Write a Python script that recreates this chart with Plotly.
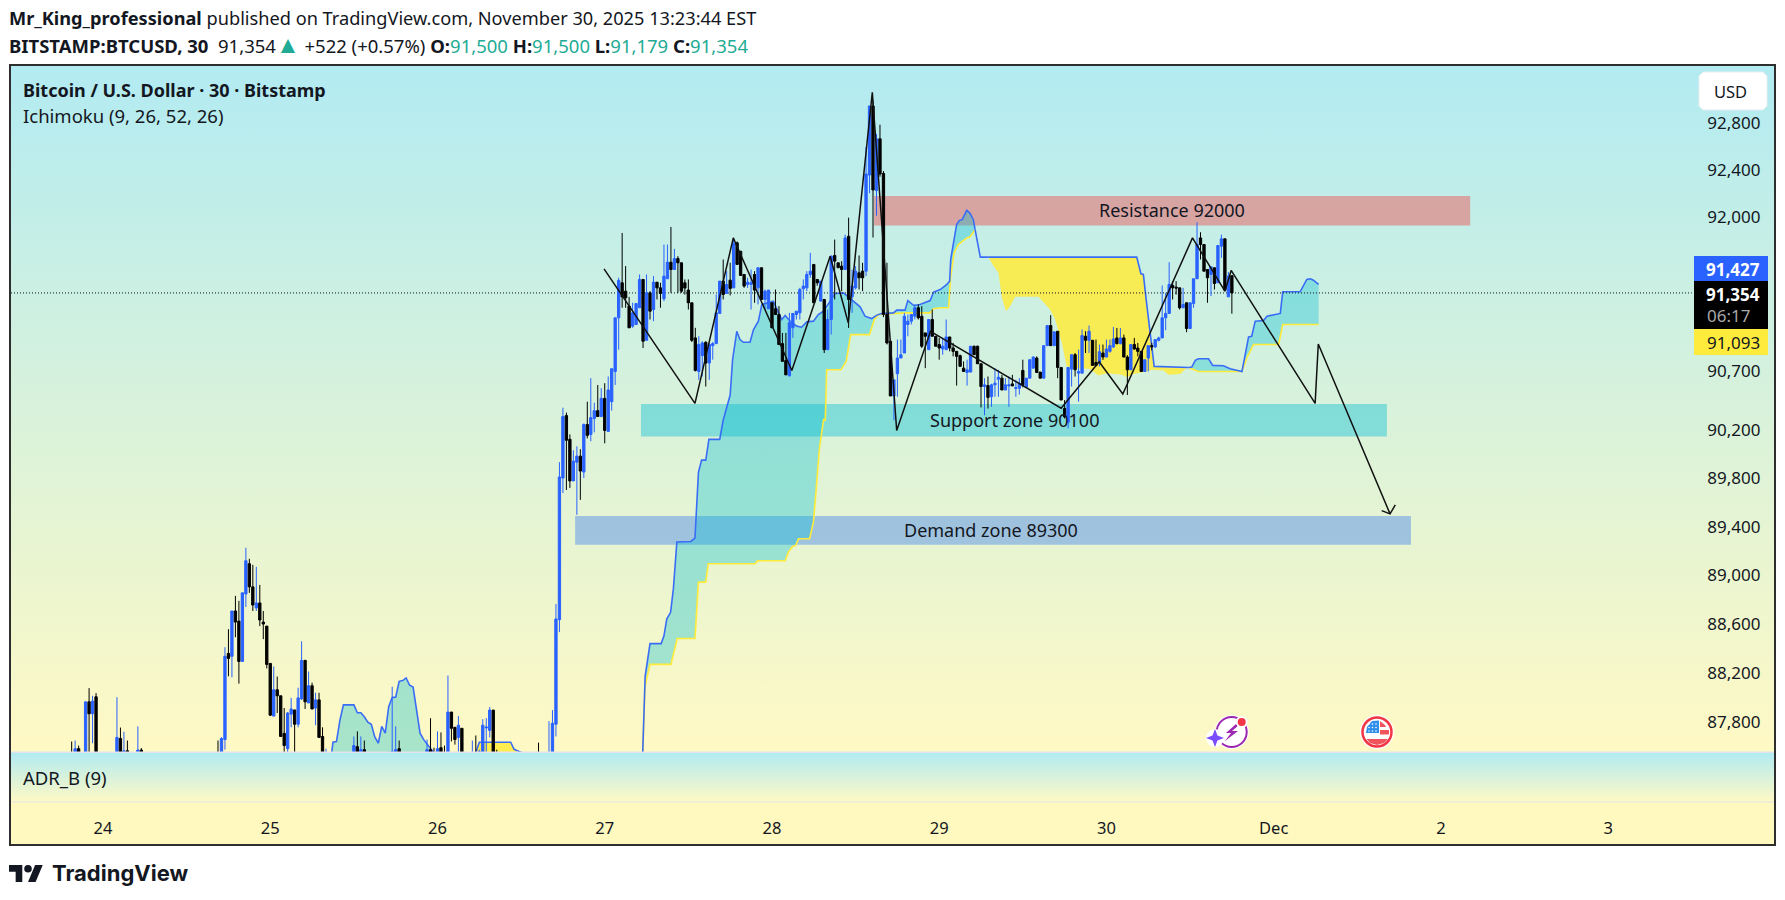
import numpy as np
import plotly.graph_objects as go

WIDTH = 1785
HEIGHT = 900
FONT = "Noto Sans"
INK = "#131722"
BLUE = "#2962FF"
YELLOW = "#FFEB3B"
TEAL_FILL = "rgba(0,188,212,0.34)"
YELLOW_FILL = "rgba(255,235,59,0.85)"
GRADIENT = [[0, "#FFF9C4"], [1, "#B2EBF2"]]

# 30 minute bars, bar 0 is Nov 24 00:00
bar_numbers = list(range(-9, 325))
opens = [
    87500,87500,87585,87500,87480,87965,87868,88006,87500,87440,
    87460,87420,87440,87480,87668,87500,87568,87500,87460,87490,
    87574,87500,87460,87400,87370,87390,87340,87360,87340,87300,
    87320,87350,87390,87360,87330,87370,87400,87420,87390,87430,
    87460,87480,87540,87500,87659,88360,88336,88707,88624,88294,
    88847,89095,88905,88732,88773,88616,88583,88278,87849,88063,
    88014,87709,87585,87865,87899,87783,87989,88303,87956,88096,
    87915,87981,87684,87480,87500,87470,87450,87430,87460,87440,
    87470,87500,87601,87500,87577,87500,87480,87450,87430,87460,
    87470,87480,87480,87480,87585,87480,87450,87420,87440,87460,
    87430,87450,87480,87577,87540,87480,87593,87530,87480,87882,
    87758,87676,87750,87500,87460,87480,87530,87480,87500,87753,
    87733,87898,87500,87470,87440,87410,87430,87400,87420,87450,
    87430,87410,87440,87460,87480,87460,87490,87480,87500,87783,
    88636,89804,90324,90126,89780,89936,89986,89854,90250,90167,
    90299,90365,90316,90468,90192,90440,90693,91144,91440,91369,
    91243,91074,91088,91229,91468,90955,91355,91214,91445,91397,
    91305,91474,91614,91552,91645,91609,91440,91378,91271,90975,
    90693,90826,90938,90764,90910,90927,91181,91454,91350,91462,
    91397,91778,91707,91510,91426,91426,91510,91397,91567,91299,
    91220,91271,91220,91172,90927,90786,90657,91060,91172,91186,
    91389,91397,91510,91595,91468,91285,91299,90876,91130,91671,
    91609,91581,91552,91834,91321,91397,91524,91538,91538,92355,
    92947,92223,92665,92369,91172,90947,90488,90674,90806,90848,
    91088,91116,91158,91229,91158,91017,90876,91130,90989,90919,
    90882,90876,90983,90890,90862,90826,90721,90685,90688,90905,
    90905,90758,90567,90575,90482,90581,90628,90637,90538,90572,
    90589,90550,90552,90702,90561,90637,90721,90806,90688,90637,
    90910,91079,90910,91031,90727,90383,90268,90713,90834,90679,
    90679,90989,90955,90955,90769,90764,90848,90814,90862,90899,
    90975,90927,90975,90814,90707,90919,90890,90862,90693,90806,
    90910,90899,90955,90975,91144,91181,91417,91403,91397,91229,
    91271,91054,91265,91474,91820,91764,91552,91510,91567,91440,
    91750,91812,91321,91500,
]
highs = [
    87643,87651,87610,87530,87965,88077,88014,88036,87520,87510,
    87500,87480,87500,88003,87756,87722,87651,87530,87520,87766,
    87590,87530,87500,87440,87420,87430,87400,87410,87380,87350,
    87380,87420,87440,87400,87390,87430,87460,87480,87450,87490,
    87510,87530,87651,87678,88410,88558,88707,88831,88790,88856,
    89227,89136,89086,89070,88921,88707,88583,88278,88253,88171,
    88014,87915,87882,87997,87899,88080,88459,88303,88212,88121,
    88039,88039,87758,87585,87530,87510,87490,87480,87500,87490,
    87530,87684,87725,87684,87651,87530,87520,87490,87480,87510,
    87530,87560,88088,87766,87651,87520,87490,87470,87490,87500,
    87480,87510,87659,87832,87593,87725,87717,87610,88179,87882,
    87758,87849,87750,87530,87510,87651,87692,87577,87824,87832,
    87923,87898,87577,87510,87490,87460,87480,87450,87470,87500,
    87480,87460,87490,87510,87634,87510,87530,87808,87898,88765,
    89936,90390,90349,90167,90035,90068,90044,90258,90440,90637,
    90431,90580,90553,90595,90651,90716,91144,91482,91862,91581,
    91321,91271,91265,91510,91468,91510,91369,91496,91445,91440,
    91764,91764,91913,91727,91665,91609,91468,91468,91271,91060,
    90989,90947,90947,90933,90941,91341,91454,91637,91538,91609,
    91820,91790,91707,91510,91482,91552,91538,91567,91567,91383,
    91378,91271,91383,91243,91017,91017,91186,91181,91200,91397,
    91468,91538,91693,91595,91468,91454,91299,91214,91671,91806,
    91609,91623,91848,91992,91552,91581,91671,91609,92595,92947,
    92989,92707,92786,92389,91609,90947,90623,90961,90961,91186,
    91172,91172,91257,91257,91243,91017,91130,91214,90989,90975,
    90975,91130,90983,90933,90862,90835,90778,90792,90905,90910,
    90910,90758,90637,90651,90590,90721,90707,90665,90637,90651,
    90665,90623,90637,90792,90637,90792,90820,90820,90688,90910,
    91079,91167,91026,91031,90727,90454,90727,90834,90848,90876,
    91045,91031,91079,90955,90961,90919,90919,90961,90961,91068,
    91059,91059,91003,90830,90919,90975,90933,90862,90792,90910,
    90933,90965,90985,91417,91355,91614,91454,91454,91397,91397,
    91271,91271,91474,91952,91868,91764,91552,91575,91567,91755,
    91848,91812,91530,91500,
]
lows = [
    87400,87450,87450,87420,87450,87450,87629,87450,87420,87400,
    87400,87380,87400,87450,87450,87450,87450,87430,87420,87460,
    87450,87440,87380,87340,87330,87310,87300,87320,87270,87250,
    87290,87310,87340,87300,87290,87340,87360,87380,87350,87390,
    87420,87440,87480,87470,87577,88173,88165,88492,88113,88294,
    88740,88856,88707,88707,88583,88476,88237,87849,87849,87874,
    87684,87500,87500,87758,87500,87758,87981,87907,87956,87907,
    87775,87676,87450,87450,87440,87420,87400,87390,87420,87400,
    87430,87470,87460,87470,87460,87450,87420,87410,87390,87420,
    87440,87450,87450,87450,87450,87430,87400,87380,87400,87410,
    87390,87420,87450,87450,87450,87450,87450,87450,87450,87643,
    87618,87560,87450,87430,87420,87450,87450,87450,87470,87550,
    87676,87450,87440,87420,87390,87370,87380,87360,87380,87410,
    87390,87370,87400,87420,87440,87420,87450,87450,87470,87684,
    88534,89680,89705,89722,89780,89499,89623,89804,90134,90110,
    90184,90316,90316,90093,90192,90365,90580,90876,91229,91229,
    91060,91060,91088,91229,90890,90955,91130,91116,91299,91229,
    91285,91474,91355,91552,91355,91355,91340,91214,90941,90693,
    90623,90651,90567,90623,90792,90927,91181,91299,91350,91333,
    91397,91595,91502,91397,91397,91214,91271,91257,91299,91214,
    91220,91060,91172,90919,90778,90665,90651,90975,91130,91130,
    91299,91369,91482,91271,91415,91285,90848,90876,91003,91299,
    91567,91369,91552,91059,91186,91383,91383,91369,91496,92200,
    91823,92009,92341,91150,90920,90488,90285,90482,90806,90848,
    90989,91088,91130,91130,90890,90721,90876,90989,90905,90792,
    90834,90876,90862,90820,90575,90736,90690,90575,90688,90834,
    90758,90392,90327,90383,90397,90482,90482,90538,90538,90397,
    90572,90482,90500,90560,90561,90637,90721,90685,90637,90637,
    90910,90910,90910,90637,90454,90300,90217,90567,90651,90440,
    90679,90848,90848,90744,90736,90736,90790,90814,90850,90890,
    90920,90920,90814,90496,90707,90875,90820,90693,90693,90693,
    90870,90890,90945,90975,91040,91181,91299,91340,91214,91229,
    91023,91054,91229,91474,91637,91538,91271,91327,91383,91440,
    91651,91370,91321,91179,
]
closes = [
    87450,87585,87500,87450,87965,87868,87970,87500,87440,87460,
    87420,87440,87480,87676,87500,87568,87500,87460,87490,87574,
    87500,87460,87400,87370,87390,87340,87360,87340,87300,87320,
    87350,87390,87360,87330,87370,87400,87420,87390,87430,87460,
    87480,87500,87500,87667,88336,88319,88707,88616,88294,88856,
    89120,88905,88756,88773,88633,88600,88270,87857,88063,88014,
    87684,87610,87874,87907,87783,87997,88303,87965,88096,87907,
    87981,87676,87500,87540,87470,87450,87430,87460,87440,87470,
    87500,87610,87500,87577,87500,87480,87450,87430,87460,87470,
    87480,87545,87560,87577,87480,87450,87420,87440,87460,87430,
    87450,87480,87577,87480,87480,87585,87480,87480,87882,87750,
    87659,87775,87500,87460,87480,87530,87480,87560,87775,87760,
    87898,87500,87470,87440,87410,87430,87400,87420,87450,87430,
    87410,87440,87460,87480,87460,87490,87480,87540,87791,88641,
    89813,90316,90118,89780,89944,89986,89862,90250,90159,90307,
    90365,90316,90468,90200,90538,90716,91144,91460,91321,91313,
    91060,91186,91265,91468,90947,91355,91200,91445,91397,91350,
    91496,91614,91552,91645,91609,91369,91395,91271,90955,90702,
    90919,90933,90764,90919,90927,91186,91454,91341,91426,91392,
    91772,91595,91502,91412,91445,91440,91378,91567,91299,91369,
    91378,91060,91172,90919,90778,90665,91102,91181,91200,91383,
    91412,91510,91538,91271,91440,91454,90876,91130,91665,91623,
    91567,91552,91820,91299,91412,91538,91482,91482,92364,92947,
    92228,92665,92364,91172,90933,90488,90623,90806,90834,91158,
    91116,91172,91229,91144,90905,90989,91130,90989,90905,90890,
    90905,90983,90890,90862,90820,90736,90693,90707,90905,90834,
    90758,90567,90581,90476,90581,90595,90645,90538,90581,90581,
    90572,90558,90595,90581,90637,90792,90814,90685,90637,90910,
    91079,90910,91026,90727,90454,90313,90727,90834,90707,90693,
    90995,90955,91031,90744,90744,90859,90814,90882,90910,90966,
    90927,90975,90814,90707,90919,90882,90862,90693,90792,90910,
    90899,90961,90975,91144,91181,91426,91397,91395,91229,91257,
    91054,91271,91474,91764,91764,91538,91482,91575,91434,91755,
    91812,91378,91496,91354,
]

# Ichimoku cloud, upper edge (blue) and lower edge (yellow) in runs
cloud1_top_bars = [65, 66, 67, 68, 69, 71, 72, 73, 74, 75, 76, 77, 78, 79, 80, 81, 82, 83, 84, 85, 86, 87, 88, 89, 90, 91, 92, 93, 94, 95, 96]
cloud1_top = [87400, 87637, 87642, 87816, 87940, 87940, 87940, 87876, 87876, 87843, 87800, 87783, 87680, 87629, 87766, 87711, 87926, 88000, 88003, 88132, 88138, 88160, 88100, 88085, 87898, 87711, 87660, 87620, 87590, 87550, 87400]
cloud1_low_bars = [65, 96]
cloud1_low = [87300, 87300]

cloud2_top_bars = [106, 107, 108, 117, 118, 119, 120, 121, 122]
cloud2_top = [87400, 87552, 87637, 87637, 87580, 87565, 87555, 87548, 87400]
cloud2_low_bars = [106, 122]
cloud2_low = [87300, 87300]

cloud3_top_bars = [154.9, 155.6, 157, 160.2, 161, 161.8, 162.9, 163.7, 164.7, 168.7, 169.9, 170.9, 171.8, 173, 173.9, 177, 178, 180, 180.7, 181.9, 182.8, 183.8, 185.7, 186.7, 188.1, 189.1, 192.4, 193.6, 194.8, 195.8, 197.2, 199.1, 200.5, 202, 203.9, 205.3, 206.8, 208.7, 210.1, 212.5, 213.9, 215.9, 217.3, 218.7, 220.6, 222.1, 223.5, 226.9, 227.8, 230.2, 231, 232.7, 234.5, 237.4, 238.4, 240.3, 242.2, 243, 243.3, 244.1, 245, 245.8, 246.6, 247.9, 248.8, 249.8, 250.3]
cloud3_top = [87552, 88173, 88440, 88440, 88503, 88641, 88696, 88888, 89274, 89279, 89307, 89851, 89953, 89953, 90126, 90126, 90285, 90496, 90792, 91031, 90961, 90938, 90938, 91045, 91116, 91257, 91285, 91214, 91130, 91164, 91116, 91074, 91065, 91110, 91116, 91172, 91200, 91285, 91350, 91355, 91321, 91271, 91237, 91158, 91138, 91167, 91181, 91186, 91209, 91209, 91290, 91248, 91257, 91290, 91361, 91383, 91426, 91454, 91637, 91778, 91933, 91969, 91975, 92054, 92031, 91975, 91890]
cloud3_low_bars = [154.9, 155.6, 157, 163, 164.8, 169.9, 170.9, 173, 173.7, 187.2, 187.8, 195.8, 196.7, 197.9, 198.8, 199.6, 202.8, 203.9, 204.7, 205.6, 206.8, 207.3, 207.7, 211.8, 213.3, 214.6, 220, 221.4, 222.6, 226.9, 230.7, 237.4, 238.4, 240.3, 242.7, 243.3, 244.3, 245.5, 247.9, 248.8, 249.8, 250.3]
cloud3_low = [87552, 88091, 88270, 88270, 88481, 88481, 88944, 88944, 89095, 89095, 89120, 89120, 89191, 89238, 89246, 89301, 89301, 89439, 89713, 90043, 90291, 90285, 90707, 90707, 90778, 91003, 91003, 91130, 91172, 91181, 91186, 91186, 91220, 91229, 91229, 91496, 91693, 91764, 91820, 91828, 91868, 91890]

connect_bars = [250.3, 250.8, 251.8, 254.1]
connect_top = [91890, 91806, 91657, 91657]

cloud4_top_bars = [254.1, 296.7, 297.9, 298.6, 299.4, 300.6, 301.7, 311.6]
cloud4_top = [91657, 91657, 91516, 91510, 91299, 91017, 90736, 90727]
cloud4_low_bars = [254.1, 255.6, 257, 258, 259.2, 260.4, 261.8, 268.5, 271.8, 273.3, 275.2, 276.6, 278.5, 283.3, 285.7, 288.1, 292.4, 293.9, 295.8, 299.6, 301, 304.4, 305.8, 309.2, 311.1, 311.6]
cloud4_low = [91657, 91581, 91524, 91313, 91200, 91243, 91321, 91321, 91214, 91130, 90933, 90736, 90722, 90713, 90660, 90679, 90665, 90645, 90673, 90693, 90707, 90702, 90665, 90671, 90727, 90727]

cloud5_top_bars = [311.6, 312.5, 313.5, 314.4, 317.3, 318.5, 321.6, 323.5, 326.9, 327.8, 328.8, 329.7, 330.7, 333.1, 334.1, 337.9, 338.6, 343.6, 345.5, 346.5, 347.4, 348.9]
cloud5_top = [90727, 90730, 90786, 90800, 90800, 90744, 90741, 90716, 90693, 90848, 90983, 90989, 91116, 91121, 91158, 91181, 91364, 91364, 91468, 91474, 91462, 91426]
cloud5_low_bars = [311.6, 314.4, 326.9, 328.3, 330.2, 337.4, 338.6, 348.9]
cloud5_low = [90727, 90693, 90693, 90806, 90919, 90919, 91088, 91088]

# zones drawn on the chart
zone_names = ["Resistance 92000", "Support zone 90100", "Demand zone 89300"]
zone_start = [221.3, 154.4, 135.5]
zone_end = [392.4, 368.5, 375.4]
zone_high = [92177, 90420, 89490]
zone_low = [91926, 90150, 89251]
zone_colors = ["rgba(229,115,115,0.6)", "rgba(0,188,212,0.4)", "rgba(52,119,240,0.4)"]

# hand drawn path and arrow
path_bars = [143.8, 169.9, 180.9, 197.7, 208.7, 213.9, 220.8, 227.8, 237.5, 275, 285.9, 292.7, 312.7, 322, 323.8, 347.9, 348.8, 369.4]
path_prices = [91558, 90426, 91820, 90701, 91665, 91102, 93065, 90200, 91031, 90386, 90775, 90504, 91820, 91369, 91544, 90426, 90924, 89507]
arrow_bars = [367, 369.4, 370.9]
arrow_prices = [89534, 89507, 89581]

last_price = 91354
price_ticks = [87800, 88200, 88600, 89000, 89400, 89800, 90200, 90700, 92000, 92400, 92800]
day_ticks = [0, 48, 96, 144, 192, 240, 288, 336, 384, 432]
day_labels = ["24", "25", "26", "27", "28", "29", "30", "Dec", "2", "3"]

BAR_MIN, BAR_MAX = -26.41, 479.6
PRICE_MIN, PRICE_MAX = 87558, 93291


def fx(px):
    return px / WIDTH


def fy(py):
    return 1 - py / HEIGHT


def poly(points):
    return "M " + " L ".join(f"{fx(a):.5f} {fy(b):.5f}" for a, b in points) + " Z"


def label(text, x, y, size, color=INK, anchor="left"):
    fig.add_annotation(xref="paper", yref="paper", x=fx(x), y=fy(y), text=text,
                       showarrow=False, xanchor=anchor, yanchor="middle",
                       font=dict(family=FONT, size=size, color=color))


def circle(cx, cy, r, fill, line=None, width=0):
    fig.add_shape(type="circle", xref="paper", yref="paper",
                  x0=fx(cx - r), x1=fx(cx + r), y0=fy(cy + r), y1=fy(cy - r),
                  fillcolor=fill, line=dict(color=line or fill, width=width), layer="above")


def block(x0, y0, x1, y1, color, layer="above"):
    fig.add_shape(type="rect", xref="paper", yref="paper", x0=fx(x0), x1=fx(x1), y0=fy(y1), y1=fy(y0),
                  fillcolor=color, line_width=0, layer=layer)


def polygon(points, color):
    fig.add_shape(type="path", xref="paper", yref="paper", path=poly(points), fillcolor=color,
                  line_width=0, layer="above")


fig = go.Figure()

# gradient backgrounds of the two panes
fig.add_trace(go.Scatter(x=[BAR_MIN, BAR_MAX, BAR_MAX, BAR_MIN, BAR_MIN],
                         y=[PRICE_MIN, PRICE_MIN, PRICE_MAX, PRICE_MAX, PRICE_MIN],
                         mode="lines", fill="toself", line_width=0, hoverinfo="skip",
                         fillgradient=dict(type="vertical", colorscale=GRADIENT)))
fig.add_trace(go.Scatter(x=[BAR_MIN, BAR_MAX, BAR_MAX, BAR_MIN, BAR_MIN], y=[0, 0, 1, 1, 0],
                         xaxis="x2", yaxis="y2", mode="lines", fill="toself", line_width=0,
                         hoverinfo="skip", fillgradient=dict(type="vertical", colorscale=GRADIENT)))

for start, end, high, low, color in zip(zone_start, zone_end, zone_high, zone_low, zone_colors):
    fig.add_trace(go.Scatter(x=[start, end, end, start, start], y=[low, low, high, high, low],
                             mode="lines", fill="toself", fillcolor=color, line_width=0, hoverinfo="skip"))

clouds = [
    (cloud1_top_bars, cloud1_top, cloud1_low_bars, cloud1_low, TEAL_FILL),
    (cloud2_top_bars, cloud2_top, cloud2_low_bars, cloud2_low, YELLOW_FILL),
    (cloud3_top_bars, cloud3_top, cloud3_low_bars, cloud3_low, TEAL_FILL),
    (cloud4_top_bars, cloud4_top, cloud4_low_bars, cloud4_low, YELLOW_FILL),
    (cloud5_top_bars, cloud5_top, cloud5_low_bars, cloud5_low, TEAL_FILL),
]
for top_x, top_y, low_x, low_y, color in clouds:
    fig.add_trace(go.Scatter(x=top_x + low_x[::-1], y=top_y + low_y[::-1], mode="lines", fill="toself",
                             fillcolor=color, line_width=0, hoverinfo="skip"))
for top_x, top_y, low_x, low_y, color in clouds:
    if color == TEAL_FILL:
        fig.add_trace(go.Scatter(x=low_x, y=low_y, mode="lines", hoverinfo="skip",
                                 line=dict(color=YELLOW, width=1.6)))
for top_x, top_y, low_x, low_y, color in clouds:
    fig.add_trace(go.Scatter(x=top_x, y=top_y, mode="lines", hoverinfo="skip",
                             line=dict(color="#3A6DF5", width=1.6)))
fig.add_trace(go.Scatter(x=connect_bars, y=connect_top, mode="lines", hoverinfo="skip",
                         line=dict(color="#3A6DF5", width=1.6)))

fig.add_trace(go.Scatter(x=[BAR_MIN, 456], y=[last_price, last_price], mode="lines", hoverinfo="skip",
                         line=dict(color="#111111", width=1, dash="1px 2px")))

# candles and the drawing sit on an overlay axis, the box layer is otherwise under the scatter fills
fig.add_trace(go.Candlestick(
    x=bar_numbers, open=opens, high=highs, low=lows, close=closes, yaxis="y3",
    increasing=dict(line=dict(color=BLUE, width=1), fillcolor=BLUE),
    decreasing=dict(line=dict(color="#000000", width=1), fillcolor="#000000"),
    whiskerwidth=0, hoverinfo="skip"))

fig.add_trace(go.Scatter(x=path_bars, y=path_prices, yaxis="y3", mode="lines", hoverinfo="skip",
                         line=dict(color="#111111", width=1.5)))
fig.add_trace(go.Scatter(x=arrow_bars, y=arrow_prices, yaxis="y3", mode="lines", hoverinfo="skip",
                         line=dict(color="#111111", width=1.5)))

price_range = [np.log10(PRICE_MIN), np.log10(PRICE_MAX)]
fig.update_layout(
    width=WIDTH, height=HEIGHT, margin=dict(l=0, r=0, t=0, b=0), showlegend=False,
    paper_bgcolor="white", plot_bgcolor="rgba(0,0,0,0)", boxgap=0.05,
    xaxis=dict(domain=[fx(11), fx(1774)], range=[BAR_MIN, BAR_MAX], anchor="y",
               showgrid=False, zeroline=False, showticklabels=False, ticks="",
               rangeslider=dict(visible=False)),
    yaxis=dict(domain=[fy(752), fy(66)], type="log", range=price_range,
               anchor="x", side="right", showgrid=False, zeroline=False,
               tickvals=price_ticks, ticktext=[f"{p:,}" for p in price_ticks],
               ticklabelposition="inside", ticks="inside", ticklen=14, tickcolor="rgba(0,0,0,0)",
               tickfont=dict(family=FONT, size=17, color=INK)),
    yaxis3=dict(domain=[fy(752), fy(66)], type="log", range=price_range, overlaying="y",
                anchor="x", side="right", visible=False),
    xaxis2=dict(domain=[fx(11), fx(1774)], range=[BAR_MIN, BAR_MAX], anchor="y2",
                showgrid=False, zeroline=False, tickvals=day_ticks, ticktext=day_labels,
                ticks="outside", ticklen=11, tickcolor="rgba(0,0,0,0)",
                tickfont=dict(family=FONT, size=16.5, color=INK)),
    yaxis2=dict(domain=[fy(802), fy(753)], range=[0, 1], anchor="x2", showgrid=False,
                zeroline=False, showticklabels=False, ticks=""),
)

# time scale band, pane separators and frame
block(11, 802, 1774, 845, "#FFF8BF", layer="below")
block(11, 751.5, 1774, 753, "#E0E3EB")
block(11, 801.5, 1774, 802.5, "#E0E3EB")
fig.add_shape(type="rect", xref="paper", yref="paper", x0=fx(10), x1=fx(1775), y0=fy(845), y1=fy(65),
              line=dict(color="#2E2E2E", width=2), layer="above")

# header
label("<b>Mr_King_professional</b> published on TradingView.com, November 30, 2025 13:23:44 EST", 7, 18, 18.2)
green = "#22AB94"
label(f"<b>BITSTAMP:BTCUSD, 30</b>  91,354<span style='color:{green};font-size:24px'>▲</span> +522 (+0.57%) "
      f"<b>O:</b><span style='color:{green}'>91,500</span> <b>H:</b><span style='color:{green}'>91,500</span> "
      f"<b>L:</b><span style='color:{green}'>91,179</span> <b>C:</b><span style='color:{green}'>91,354</span>",
      7, 43, 18.5)

# pane legends
label("<b>Bitcoin / U.S. Dollar · 30 · Bitstamp</b>", 21, 90, 18)
label("Ichimoku (9, 26, 52, 26)", 21, 116, 18.5)
label("ADR_B (9)", 21, 777, 18.5)

# zone captions
label(zone_names[0], 1172, 210, 18, anchor="center")
label(zone_names[1], 1014, 420, 18, anchor="center")
label(zone_names[2], 991, 530, 18, anchor="center")

# currency button
fig.add_shape(type="path", xref="paper", yref="paper", layer="above", fillcolor="white",
              line=dict(color="#E8EEF0", width=1),
              path=poly([(1703, 72), (1763, 72), (1767, 76), (1767, 106), (1763, 110),
                         (1703, 110), (1699, 106), (1699, 76)]))
label("USD", 1712, 91, 16.5)

# price scale labels
block(1694, 256, 1768, 281, BLUE)
block(1694, 281, 1768, 329, "#000000")
block(1694, 329, 1768, 355, YELLOW)
label("<b>91,427</b>", 1762, 269, 17, "white", "right")
label("<b>91,354</b>", 1762, 294, 17, "white", "right")
label("06:17", 1752, 315, 17, "#A8A8A8", "right")
label("91,093", 1762, 342, 17, INK, "right")

# event marks
circle(1231.7, 732, 17, "white")
circle(1231.7, 732, 15, "white", "#9C27B0", 2)
polygon([(1236, 724), (1226, 733), (1231, 733), (1225, 741), (1238, 731), (1232, 731), (1239, 725)], "#9C27B0")
circle(1215, 738, 9, "white")
polygon([(1215, 729), (1217.5, 735.5), (1224, 738), (1217.5, 740.5), (1215, 747), (1212.5, 740.5),
         (1206, 738), (1212.5, 735.5)], "#7C4DFF")
circle(1241.7, 722, 6, "white")
circle(1241.7, 722, 4, "#F23645")

circle(1377, 732, 17, "white")
circle(1377, 732, 14.5, "white", "#F23645", 2.5)
polygon([(1372, 721), (1379, 720.5), (1379, 733), (1366, 733), (1367, 727)], "#2F8FEA")
polygon([(1380, 721), (1385, 725), (1386, 727), (1380, 727)], "#F0545C")
polygon([(1380, 730), (1389, 730), (1389, 734.5), (1380, 734.5)], "#F0545C")
polygon([(1366.5, 739), (1388, 739), (1384, 743), (1377, 745), (1370, 743)], "#F0545C")
for dot_x in [1369, 1372.5, 1376]:
    for dot_y in [724, 727.5, 731]:
        circle(dot_x, dot_y, 0.8, "white")

# TradingView logo
logo_x, logo_y, logo_k = 9, 861.2, 0.95
polygon([(logo_x + a * logo_k, logo_y + b * logo_k) for a, b in [(0, 4), (14, 4), (14, 22), (7, 22), (7, 11), (0, 11)]], INK)
polygon([(logo_x + a * logo_k, logo_y + b * logo_k) for a, b in [(27.5, 4), (35.5, 4), (28, 22), (20, 22)]], INK)
circle(logo_x + 20 * logo_k, logo_y + 8 * logo_k, 3.8, INK)
fig.add_annotation(xref="paper", yref="paper", x=fx(50), y=fy(873), text="<b>TradingView</b>", showarrow=False,
                   xanchor="left", yanchor="middle", font=dict(family="Inter", size=22, color=INK))

fig.write_html("out.html", config=dict(displayModeBar=False),
               post_script="document.body.style.margin='0';document.body.style.overflow='hidden';")
